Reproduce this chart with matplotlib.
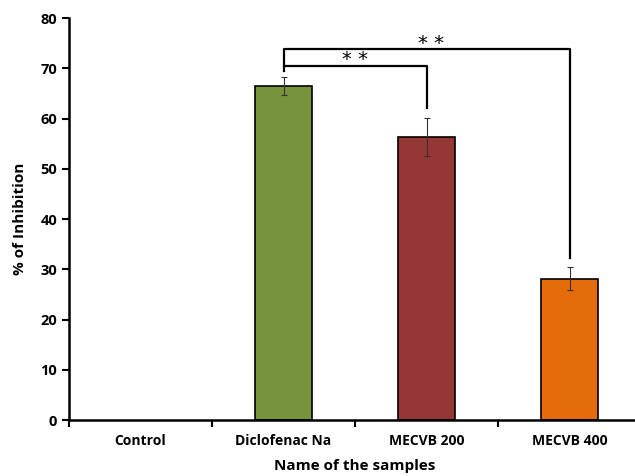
import matplotlib
matplotlib.use("Agg")
import matplotlib.pyplot as plt
import numpy as np

categories = ["Control", "Diclofenac Na", "MECVB 200", "MECVB 400"]
values = [0, 66.4, 56.3, 28.1]
errors = [0, 1.8, 3.8, 2.3]
colors = ["#4F81BD", "#77933C", "#953735", "#E46C0A"]
yticks = [0, 10, 20, 30, 40, 50, 60, 70, 80]

plt.rcParams['font.family'] = ['Open Sans', 'DejaVu Sans']
plt.rcParams['font.weight'] = 'bold'

fig = plt.figure(figsize=(6.35, 4.76), dpi=100)
ax = fig.add_axes([0.1087, 0.1176, 0.9008, 0.8445])

x = np.arange(len(categories))
edges = ["none" if v == 0 else "black" for v in values]
ax.bar(x, values, width=0.4, color=colors, edgecolor=edges, linewidth=1.2, zorder=2)
ax.errorbar(x[1:], values[1:], yerr=errors[1:], fmt="none", ecolor="#333333",
            elinewidth=0.8, capsize=2, capthick=0.8, zorder=3)

ax.set_xlim(-0.5, 3.5)
ax.set_ylim(0, 80)
ax.set_yticks(yticks)
ax.set_yticklabels([str(v) for v in yticks], fontsize=10.5, fontweight='bold')
ax.set_xticks([-0.5, 0.5, 1.5, 2.5])
ax.set_xticklabels([])
ax.tick_params(axis='x', direction='out', length=5, width=1.5)
ax.tick_params(axis='y', direction='out', length=5, width=1.5)
for i, c in enumerate(categories):
    ax.text(i, -4.2, c, ha='center', va='center', fontsize=10, fontweight='bold')

ax.spines['top'].set_visible(False)
ax.spines['right'].set_visible(False)
ax.spines['left'].set_linewidth(1.8)
ax.spines['bottom'].set_linewidth(1.8)

ax.set_ylabel("% of Inhibition", fontsize=11, fontweight='bold', labelpad=10)
ax.text(1.5, -9.2, "Name of the samples", ha='center', va='center', fontsize=11, fontweight='bold')

# significance brackets
lw = 1.6
ax.plot([1, 1, 2, 2], [69.5, 70.5, 70.5, 62.1], color='black', lw=lw, zorder=4)
ax.plot([1, 1, 3, 3], [70.5, 73.8, 73.8, 32.2], color='black', lw=lw, zorder=4)
ax.text(1.5, 70.6, "* *", ha='center', va='baseline', fontsize=14, fontweight='normal',
        family='DejaVu Sans')
ax.text(2.03, 73.9, "* *", ha='center', va='baseline', fontsize=14, fontweight='normal',
        family='DejaVu Sans')

fig.savefig("out.png", dpi=100)
